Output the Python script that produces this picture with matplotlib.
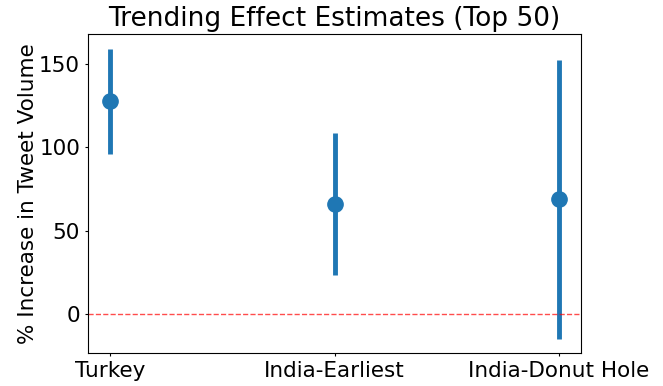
import numpy as np
import matplotlib
matplotlib.use('Agg')
import matplotlib.pyplot as plt

# point estimates and 95% intervals (% increase in tweet volume)
labels = ['Turkey', 'India-Earliest', 'India-Donut Hole']
estimates = [127.5, 66.0, 69.0]
ci_low = [96.0, 23.4, -14.6]
ci_high = [159.2, 108.6, 152.6]

est = np.array(estimates)
yerr = np.array([est - np.array(ci_low), np.array(ci_high) - est])
x = np.arange(len(labels))

fig = plt.figure(figsize=(6.63, 3.86), dpi=100)
ax = fig.add_axes([88 / 663, 1 - 353 / 386, (581 - 88) / 663, (353 - 34) / 386])

ax.errorbar(x, est, yerr=yerr, fmt='o', color='#1f77b4',
            markersize=11, elinewidth=3.5, capsize=0)
ax.axhline(0, color='red', linestyle='--', linewidth=1, alpha=0.7)

ax.set_xticks(x)
ax.set_xticklabels(labels)
ax.tick_params(labelsize=15.5, length=2.2, width=0.8)
ax.set_yticks([0, 50, 100, 150])
ax.set_ylabel('% Increase in Tweet Volume', fontsize=15.5, labelpad=1)
ax.set_title('Trending Effect Estimates (Top 50)', fontsize=19)

plt.savefig('out.png', dpi=100)
